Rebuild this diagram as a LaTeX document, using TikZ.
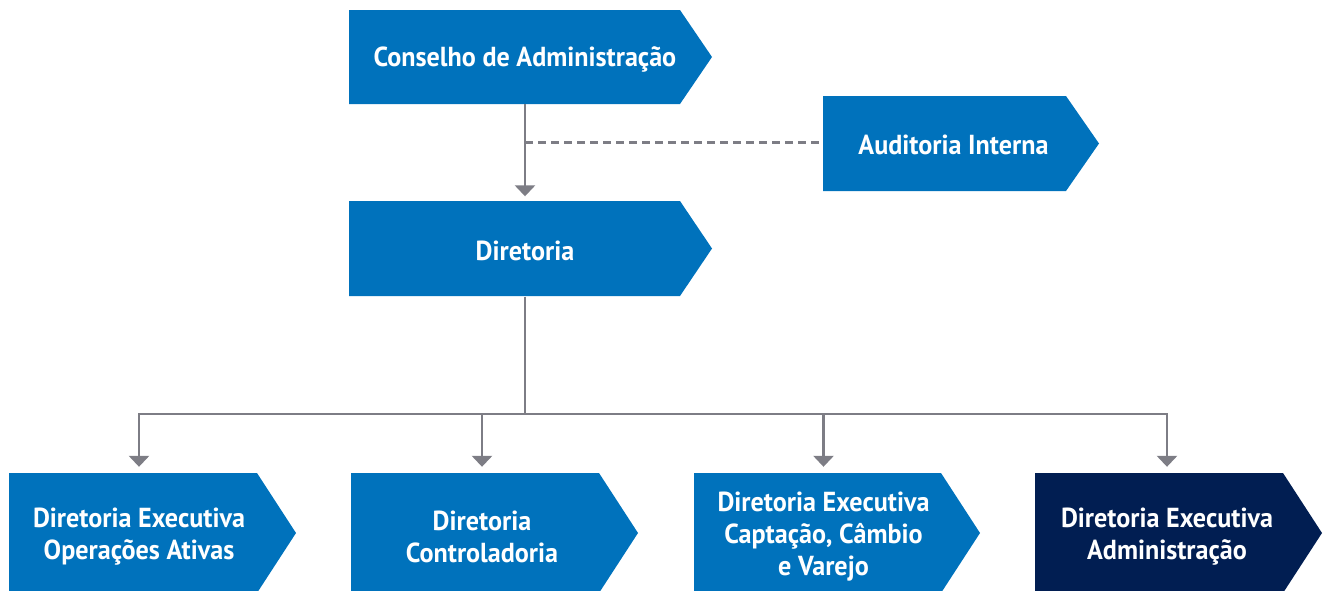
\documentclass[tikz,border=0pt]{standalone}
\usepackage{fontspec}
\setmainfont{PT Sans}
\newfontfamily\boxfont[FakeStretch=0.95]{PT Sans Bold}
\usetikzlibrary{arrows.meta}
\definecolor{cblue}{RGB}{0,114,188}
\definecolor{cnavy}{RGB}{1,30,82}
\definecolor{cgray}{RGB}{125,125,133}
\tikzset{
  lbl/.style={inner sep=0pt, text=white, align=center, font=\boxfont\fontsize{27.5}{32}\selectfont},
  conn/.style={draw=cgray, line width=2.8pt},
  arr/.style={conn, -{Triangle[width=20pt,length=11pt]}, shorten >=8pt},
  dashconn/.style={draw=cgray, line width=2.5pt, dash pattern=on 8pt off 5pt}
}
\newcommand\chev[6]{\fill[#6] (#1,#2) -- (#3,#2) -- (#4,{(#2+#5)/2}) -- (#3,#5) -- (#1,#5) -- cycle;}
\begin{document}
\begin{tikzpicture}[x=1pt,y=-1pt]
\useasboundingbox (0,0) rectangle (1326,590);
% shapes
\chev{349}{10}{680}{712}{104}{cblue}
\chev{823}{96}{1066}{1099}{191}{cblue}
\chev{349}{201}{680}{712}{296}{cblue}
\chev{9}{473}{257}{296}{593}{cblue}
\chev{351}{473}{599}{638}{593}{cblue}
\chev{694}{473}{941}{980}{593}{cblue}
\chev{1035}{473}{1283}{1322}{593}{cnavy}
% labels
\node[lbl, minimum height=94pt] (cons) at (525,59) {Conselho de Administração};
\node[lbl, minimum height=95pt, minimum width=261pt] (aud) at (953.5,145) {Auditoria Interna};
\node[lbl, minimum height=95pt] (dir) at (525,251) {Diretoria};
\node[lbl, minimum height=120pt] (b1) at (139,537) {Diretoria Executiva\\Operações Ativas};
\node[lbl, minimum height=120pt] (b2) at (482,537) {Diretoria\\Controladoria};
\node[lbl, minimum height=120pt] (b3) at (823.5,537) {Diretoria Executiva\\Captação, Câmbio\\e Varejo};
\node[lbl, minimum height=120pt] (b4) at (1167,537) {Diretoria Executiva\\Administração};
% connectors
\coordinate (j1) at (525,142.5);
\coordinate (bus) at (525,414);
\draw[arr] ([yshift=2pt]cons.south) -- ([yshift=-1pt]dir.north);
\draw[dashconn] (j1) -- (aud.west |- j1);
\draw[conn] ([yshift=2pt]dir.south) -- (bus);
\draw[arr] (bus) -| ([yshift=2pt]b1.north);
\draw[arr] (bus) -| ([yshift=2pt]b2.north);
\draw[arr] (bus) -| ([yshift=2pt]b3.north);
\draw[arr] (bus) -| ([yshift=2pt]b4.north);
\end{tikzpicture}
\end{document}
